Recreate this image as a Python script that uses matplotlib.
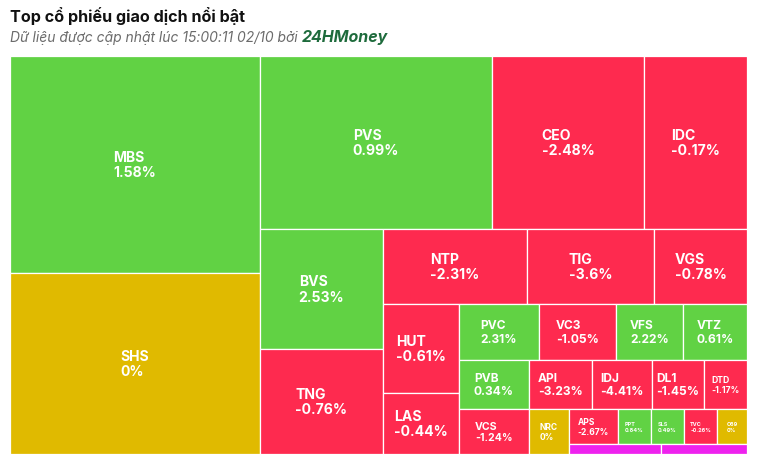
import numpy as np
import matplotlib
matplotlib.use("Agg")
import matplotlib.pyplot as plt
from matplotlib.patches import Rectangle

# ---------------- data ----------------
tickers = ["MBS", "SHS", "PVS", "CEO", "IDC", "BVS", "TNG", "NTP", "TIG", "VGS",
           "HUT", "LAS", "PVC", "VC3", "VFS", "VTZ", "PVB", "VCS", "API", "IDJ",
           "DL1", "DTD", "NRC", "APS", "PPT", "SLS", "TVC", "C69", "", ""]
# relative size of each box (trading weight)
weights = [542.5, 452.5, 401.4, 263.0, 178.2, 147.6, 129.2, 108.0, 95.3, 69.8,
           67.6, 46.4, 44.8, 43.1, 37.5, 35.8, 34.3, 31.5, 30.9, 29.4,
           25.5, 21.1, 18.0, 17.2, 11.6, 11.6, 11.6, 10.5, 9.2, 8.6]
# % price change; None = unlabeled tiny boxes shown in ceiling (fuchsia) colour
changes = [1.58, 0, 0.99, -2.48, -0.17, 2.53, -0.76, -2.31, -3.6, -0.78,
           -0.61, -0.44, 2.31, -1.05, 2.22, 0.61, 0.34, -1.24, -3.23, -4.41,
           -1.45, -1.17, 0, -2.67, 0.84, 0.49, -0.26, 0, None, None]

title = "Top cổ phiếu giao dịch nổi bật"
subtitle = "Dữ liệu được cập nhật lúc 15:00:11 02/10 bởi "
brand = "24HMoney"

# ---------------- styles ----------------
GREEN = "#61D244"
RED = "#FE2A4F"
YELLOW = "#E0BA00"
CEIL = "#EE22EE"
FONT = ["Inter", "Roboto", "DejaVu Sans"]


def color_for(c):
    if c is None:
        return CEIL
    if c > 0:
        return GREEN
    if c < 0:
        return RED
    return YELLOW


def squarified(vals, W, H, direction=0):
    """Highcharts-like squarified layout with alternating direction."""
    total = float(sum(vals))
    areas = [v / total * W * H for v in vals]
    ar = lambda a, b: max(a / b, b / a)
    rects = []
    x, y, w, h = 0.0, 0.0, float(W), float(H)
    i, n = 0, len(areas)
    while i < n:
        row = [areas[i]]
        i += 1
        while i < n:
            prev = row[-1]
            s_old = sum(row)
            s_new = s_old + areas[i]
            if direction == 0:
                lw = s_old / h
                nw = s_new / h
                lr = ar(lw, prev / lw)
                nr = ar(nw, prev / nw)
            else:
                lh = s_old / w
                nh = s_new / w
                lr = ar(prev / lh, lh)
                nr = ar(prev / nh, nh)
            if nr > lr:
                break
            row.append(areas[i])
            i += 1
        s = sum(row)
        if direction == 0:
            cw = s / h
            yy = y
            for a in row:
                ph = a / cw
                rects.append((x, yy, cw, ph))
                yy += ph
            x += cw
            w -= cw
        else:
            rh = s / w
            xx = x
            for a in row:
                pw = a / rh
                rects.append((xx, y, pw, rh))
                xx += pw
            y += rh
            h -= rh
        direction = 1 - direction
    return rects


FIG_W, FIG_H = 760, 467
fig = plt.figure(figsize=(FIG_W / 100, FIG_H / 100), dpi=100)
fig.patch.set_facecolor("white")

# treemap area (pixels): x 10..747, y 56..454
L, T, R, B = 10, 56, 747, 454
ax = fig.add_axes([L / FIG_W, (FIG_H - B) / FIG_H, (R - L) / FIG_W, (B - T) / FIG_H])
AW, AH = R - L, B - T
ax.set_xlim(0, AW)
ax.set_ylim(AH, 0)
ax.axis("off")

rects = squarified(weights, AW, AH)

for (x, y, w, h), name, c in zip(rects, tickers, changes):
    ax.add_patch(Rectangle((x, y), w, h, facecolor=color_for(c),
                           edgecolor="white", linewidth=0.9))
    if c is None or not name:
        continue
    m = min(w, h)
    px = float(np.interp(m, [33.5, 35, 43, 45, 49, 56, 60],
                         [5.5, 8.5, 8.5, 10.5, 12, 12, 14]))
    ax.text(x + w / 2, y + h / 2 + 1, f"{name}\n{c:g}%", ha="center", va="center",
            multialignment="left", color="white", fontweight="bold",
            fontsize=px * 0.72, family=FONT, linespacing=1.15)

fig.text(10 / FIG_W, 1 - 22 / FIG_H, title, fontsize=11.6, fontweight="bold",
         color="#111111", family=FONT, va="baseline")
t1 = fig.text(10 / FIG_W, 1 - 42 / FIG_H, subtitle, fontsize=10, style="italic",
              color="#6b6b6b", family=FONT, va="baseline")
fig.canvas.draw()
bb = t1.get_window_extent()
fig.text(bb.x1 / FIG_W, 1 - 42 / FIG_H, brand, fontsize=11.5, style="italic",
         fontweight="bold", color="#1E6B3C", family=FONT, va="baseline")

fig.savefig("out.png", dpi=100, facecolor="white")
